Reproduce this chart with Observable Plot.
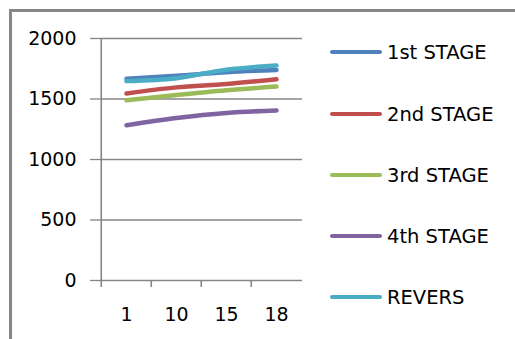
<!DOCTYPE html>
<html>
<head>
<meta charset="utf-8">
<script src="https://cdn.jsdelivr.net/npm/d3@7"></script>
<script src="https://cdn.jsdelivr.net/npm/@observablehq/plot@0.6"></script>
<style>
  html, body { margin: 0; padding: 0; background: #fff; }
  #wrap { position: relative; width: 515px; height: 339px; overflow: hidden; font-family: "DejaVu Sans", sans-serif; }
  #frame { position: absolute; left: 8.5px; top: 8.5px; width: 520px; height: 340px;
           border-top: 3px solid #878787; border-left: 3px solid #878787; box-sizing: border-box; }
  #chart { position: absolute; left: 0; top: 0; }
  .leg { position: absolute; left: 330px; height: 22px; display: flex; align-items: center; }
  .leg .sw { width: 52px; height: 4px; border-radius: 2px; margin-right: 5px; }
  .leg span { font-size: 19.5px; color: #000; white-space: nowrap; }
</style>
</head>
<body>
<div id="wrap">
  <div id="frame"></div>
  <div id="chart"></div>
</div>
<script>
// Stages measured at each sampling point
const categories = ["1", "10", "15", "18"];
const seriesNames = ["1st STAGE", "2nd STAGE", "3rd STAGE", "4th STAGE", "REVERS"];
const stage1 = [1667, 1692, 1722, 1740];
const stage2 = [1546, 1596, 1624, 1663];
const stage3 = [1490, 1533, 1572, 1603];
const stage4 = [1283, 1343, 1385, 1405];
const revers = [1648, 1672, 1742, 1776];
const yTicks = [0, 500, 1000, 1500, 2000];
const colors = ["#4F81BD", "#C0504D", "#9BBB59", "#8064A2", "#4BACC6"];

const seriesValues = [stage1, stage2, stage3, stage4, revers];
const rows = seriesNames.flatMap((name, i) =>
  categories.map((c, j) => ({series: name, x: c, y: seriesValues[i][j]}))
);

const W = 515, H = 339;
const mL = 100, mR = 213, mT = 38, mB = 59;
const halfStep = (W - mL - mR) / categories.length / 2;

const plot = Plot.plot({
  width: W,
  height: H,
  marginLeft: mL,
  marginRight: mR,
  marginTop: mT,
  marginBottom: mB,
  style: {fontFamily: "DejaVu Sans, sans-serif", fontSize: "19px", color: "#000", background: "transparent"},
  x: {type: "point", domain: categories, padding: 0.5, label: null},
  y: {domain: [0, 2000], label: null},
  color: {domain: seriesNames, range: colors},
  marks: [
    Plot.ruleY(yTicks, {stroke: "#868686", strokeWidth: 1.3}),
    Plot.ruleX([categories[0]], {dx: -halfStep, y1: 0, y2: 2000, stroke: "#868686", strokeWidth: 1.6}),
    Plot.tickX(categories, {x: d => d, dx: -halfStep, stroke: "#868686", strokeWidth: 1.6}),
    Plot.axisY({ticks: yTicks, tickSize: 10, tickPadding: 14, tickFormat: d => String(d), stroke: "#868686", strokeWidth: 1.3, label: null}),
    Plot.axisX({tickSize: 0, tickPadding: 27, label: null}),
    Plot.lineY(rows, {x: "x", y: "y", z: "series", stroke: "series", strokeWidth: 4.5, curve: "monotone-x", strokeLinecap: "round"})
  ]
});
document.getElementById("chart").appendChild(plot);

// Shorten the separator ticks to a small notch below the x axis
d3.select(plot).selectAll("g[aria-label='tick'] line")
  .each(function () {
    const y2 = +this.getAttribute("y2");
    this.setAttribute("y1", y2);
    this.setAttribute("y2", y2 + 7);
  });

// Legend beside the plot
const legendRows = [52, 114, 175, 236, 297];
const wrap = document.getElementById("wrap");
seriesNames.forEach((name, i) => {
  const item = document.createElement("div");
  item.className = "leg";
  item.style.top = (legendRows[i] - 11) + "px";
  item.innerHTML = `<div class="sw" style="background:${colors[i]}"></div><span>${name}</span>`;
  wrap.appendChild(item);
});
</script>
</body>
</html>
